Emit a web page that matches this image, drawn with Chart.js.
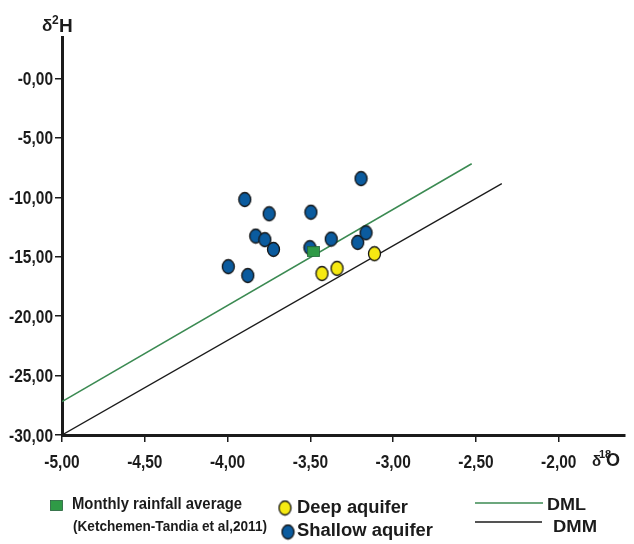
<!DOCTYPE html>
<html lang="fr">
<head>
  <meta charset="UTF-8">
  <title>δ2H vs δ18O</title>
  <script src="https://cdn.jsdelivr.net/npm/chart.js"></script>
  <style>
    html, body { margin: 0; padding: 0; background: #ffffff; }
    #wrap { position: relative; width: 634px; height: 544px; }
  </style>
</head>
<body>
  <div id="wrap"><canvas id="isoChart" width="634" height="544"></canvas></div>

  <script>
    // Shallow aquifer samples (δ18O, δ2H)
    const shallowX = [-3.896, -3.749, -3.497, -3.194, -3.830, -3.775, -3.723, -3.996, -3.878, -3.503, -3.374, -3.214, -3.164];
    const shallowY = [-10.18, -11.38, -11.25, -8.42, -13.26, -13.56, -14.38, -15.83, -16.58, -14.23, -13.51, -13.79, -12.98];

    // Deep aquifer samples
    const deepX = [-3.430, -3.339, -3.113];
    const deepY = [-16.41, -15.97, -14.74];

    // Monthly rainfall average (Ketchemen-Tandia et al, 2011)
    const rainX = [-3.481];
    const rainY = [-14.57];

    // Local (DML) and global (DMM) meteoric water lines, end points
    const dmlX = [-5.00, -2.526];
    const dmlY = [-27.18, -7.17];
    const dmmX = [-5.00, -2.344];
    const dmmY = [-30.00, -8.84];

    // Axis ranges and tick steps
    const xRange = [-5.0, -1.6];
    const yRange = [-30.0, 3.5];
    const xStep = 0.5;
    const yStep = 5;

    const FONT = "'Liberation Sans', Arial, sans-serif";
    const SQUEEZE = 0.86;   // condensed look for all labels
    const INK = '#1b1b1b';
    const BLUE = '#0b5b9e';
    const YELLOW = '#f6ea12';
    const GREEN = '#2f9a46';
    const LINE_GREEN = '#3b8a52';

    const pairs = (xs, ys) => xs.map((x, i) => ({ x: x, y: ys[i] }));

    // slightly tall ellipse marker used for the samples
    function makeDot(fill) {
      const c = document.createElement('canvas');
      c.width = 15; c.height = 17;
      const g = c.getContext('2d');
      g.beginPath();
      g.ellipse(7.5, 8.5, 6, 7, 0, 0, Math.PI * 2);
      g.fillStyle = fill;
      g.fill();
      g.lineWidth = 1.3;
      g.strokeStyle = '#161616';
      g.stroke();
      return c;
    }
    const blueDot = makeDot(BLUE);
    const yellowDot = makeDot(YELLOW);

    function makeSquare() {
      const c = document.createElement('canvas');
      c.width = 13; c.height = 11;
      const g = c.getContext('2d');
      g.fillStyle = GREEN;
      g.fillRect(0.5, 0.5, 12, 10);
      g.lineWidth = 0.8;
      g.strokeStyle = '#24603a';
      g.strokeRect(0.5, 0.5, 12, 10);
      return c;
    }
    const greenSquare = makeSquare();

    function fmt(v) {
      return '-' + Math.abs(v).toFixed(2).replace('.', ',');
    }

    // draw text squeezed/stretched to a given width
    function fitText(ctx, text, x, y, width, font) {
      ctx.font = font;
      const w = ctx.measureText(text).width;
      ctx.save();
      ctx.translate(x, y);
      ctx.scale(width / w, 1);
      ctx.fillText(text, 0, 0);
      ctx.restore();
    }

    // text with a fixed horizontal squeeze, aligned on its left/centre/right
    function narrowText(ctx, text, x, y, font, align) {
      ctx.font = font;
      const w = ctx.measureText(text).width * SQUEEZE;
      let left = x;
      if (align === 'center') left = x - w / 2;
      if (align === 'right') left = x - w;
      ctx.save();
      ctx.translate(left, y);
      ctx.scale(SQUEEZE, 1);
      ctx.textAlign = 'left';
      ctx.fillText(text, 0, 0);
      ctx.restore();
    }

    // tick labels, axis titles and the legend block under the plot
    const extras = {
      id: 'extras',
      afterDraw(chart) {
        const ctx = chart.ctx;
        const sx = chart.scales.x;
        const sy = chart.scales.y;
        ctx.save();
        ctx.fillStyle = INK;
        ctx.textBaseline = 'alphabetic';

        const tickFont = 'bold 18px ' + FONT;
        sx.ticks.forEach(t => {
          narrowText(ctx, fmt(t.value), sx.getPixelForValue(t.value), 468, tickFont, 'center');
        });
        sy.ticks.forEach(t => {
          narrowText(ctx, fmt(t.value), 53, sy.getPixelForValue(t.value) + 6.5, tickFont, 'right');
        });

        // δ2H
        ctx.font = 'bold 17px ' + FONT;
        ctx.fillText('δ', 42, 31);
        ctx.font = 'bold 12px ' + FONT;
        ctx.fillText('2', 52, 24);
        ctx.font = 'bold 19px ' + FONT;
        ctx.fillText('H', 59, 32);

        // δ18O
        ctx.font = 'bold 15px ' + FONT;
        ctx.fillText('δ', 592, 466);
        ctx.font = 'bold 11px ' + FONT;
        ctx.fillText('18', 599, 458);
        ctx.font = 'bold 18px ' + FONT;
        ctx.fillText('O', 606, 466);

        // legend
        ctx.drawImage(greenSquare, 50, 500);
        fitText(ctx, 'Monthly rainfall average', 72, 509, 170, 'bold 16px ' + FONT);
        fitText(ctx, '(Ketchemen-Tandia et al,2011)', 73, 531, 194, 'bold 15px ' + FONT);

        ctx.drawImage(yellowDot, 285 - 7.5, 508 - 8.5);
        fitText(ctx, 'Deep aquifer', 297, 513, 111, 'bold 18px ' + FONT);
        ctx.drawImage(blueDot, 288 - 7.5, 532 - 8.5);
        fitText(ctx, 'Shallow aquifer', 297, 536, 136, 'bold 18px ' + FONT);

        ctx.lineWidth = 1.5;
        ctx.strokeStyle = LINE_GREEN;
        ctx.beginPath(); ctx.moveTo(475, 503); ctx.lineTo(543, 503); ctx.stroke();
        ctx.strokeStyle = INK;
        ctx.lineWidth = 1.3;
        ctx.beginPath(); ctx.moveTo(475, 522); ctx.lineTo(542, 522); ctx.stroke();
        fitText(ctx, 'DML', 547, 510, 39, 'bold 16px ' + FONT);
        fitText(ctx, 'DMM', 553, 532, 44, 'bold 16px ' + FONT);

        ctx.restore();
      }
    };

    new Chart(document.getElementById('isoChart').getContext('2d'), {
      type: 'scatter',
      data: {
        datasets: [
          {
            label: 'DML',
            data: pairs(dmlX, dmlY),
            showLine: true,
            borderColor: LINE_GREEN,
            borderWidth: 1.5,
            pointRadius: 0,
            order: 5
          },
          {
            label: 'DMM',
            data: pairs(dmmX, dmmY),
            showLine: true,
            borderColor: INK,
            borderWidth: 1.3,
            pointRadius: 0,
            order: 4
          },
          {
            label: 'Shallow aquifer',
            data: pairs(shallowX, shallowY),
            pointStyle: blueDot,
            order: 3
          },
          {
            label: 'Deep aquifer',
            data: pairs(deepX, deepY),
            pointStyle: yellowDot,
            order: 2
          },
          {
            label: 'Monthly rainfall average',
            data: pairs(rainX, rainY),
            pointStyle: greenSquare,
            order: 1
          }
        ]
      },
      options: {
        responsive: false,
        animation: false,
        layout: { padding: { top: 37, right: 9, left: 0, bottom: 0 } },
        plugins: {
          legend: { display: false },
          tooltip: { enabled: false }
        },
        scales: {
          x: {
            type: 'linear',
            min: xRange[0],
            max: xRange[1],
            afterBuildTicks: s => { s.ticks = s.ticks.filter(t => Math.abs(t.value / xStep - Math.round(t.value / xStep)) < 1e-6); },
            afterFit: s => { s.height = 109; },
            ticks: { stepSize: xStep, display: false },
            grid: { drawOnChartArea: false, drawTicks: true, tickLength: 7, color: INK, lineWidth: 1.5 },
            border: { display: true, color: INK, width: 3 }
          },
          y: {
            type: 'linear',
            min: yRange[0],
            max: yRange[1],
            afterBuildTicks: s => { s.ticks = s.ticks.filter(t => Math.abs(t.value / yStep - Math.round(t.value / yStep)) < 1e-6); },
            afterFit: s => { s.width = 62; },
            ticks: { stepSize: yStep, display: false },
            grid: { drawOnChartArea: false, drawTicks: true, tickLength: 7, color: INK, lineWidth: 1.5 },
            border: { display: true, color: INK, width: 3 }
          }
        }
      },
      plugins: [extras]
    });
  </script>
</body>
</html>
